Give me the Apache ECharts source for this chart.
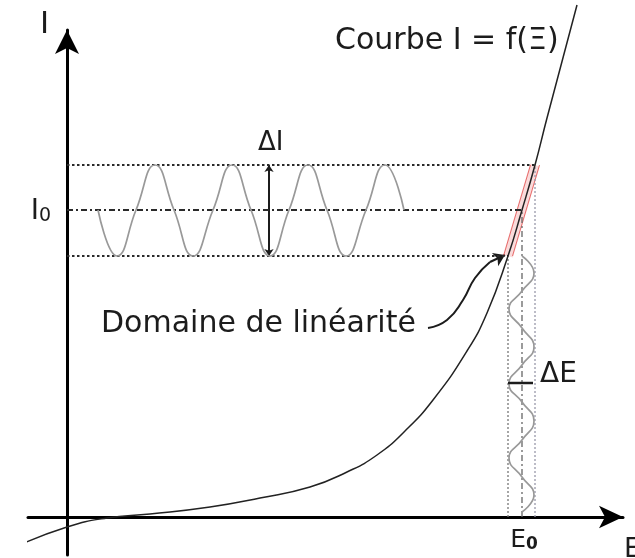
<!DOCTYPE html>
<html>
<head>
<meta charset="utf-8">
<title>Courbe I = f(E)</title>
<script src="https://cdn.jsdelivr.net/npm/echarts@6.0.0/dist/echarts.min.js"></script>
<style>
  html, body { margin: 0; padding: 0; background: #fff; }
  #chart { width: 635px; height: 558px; }
</style>
</head>
<body>
<div id="chart"></div>
<script>
  // operating point and swing (arbitrary units, origin where the axes cross)
  const E0 = 45.5
  const I0 = 30.7
  const eRange = [44.1, 46.8] // E0 -/+ dE/2
  const iRange = [26.1, 35.2] // I0 -/+ dI/2

  // characteristic I = f(E)
  const curveE = [-5.2, 0, 4.0, 8.3, 14.3, 19.3, 24.3, 28.0, 31.0, 33.8, 36.6, 40.0, 42.0, 44.1, 45.5, 46.8, 48.0, 51.0]
  const curveI = [-3.0, -1.0, -0.1, 0.3, 1.0, 1.9, 3.0, 4.5, 6.2, 8.6, 11.7, 16.6, 20.4, 26.1, 30.7, 35.2, 39.9, 51.2]

  // output signal around I0 (zero crossings and peaks)
  const outE = [3.1, 5.0, 6.9, 8.8, 10.7, 12.6, 14.6, 16.5, 18.4, 20.3, 22.2, 24.1, 26.0, 27.9, 29.9, 31.8, 33.7]
  const outI = [30.7, 26.1, 30.7, 35.2, 30.7, 26.1, 30.7, 35.2, 30.7, 26.1, 30.7, 35.2, 30.7, 26.1, 30.7, 35.2, 30.7]

  // input signal around E0, time running downwards
  const inE = [45.5, 46.7, 45.5, 44.2, 45.5, 46.7, 45.5, 44.2, 45.5, 46.7, 45.5, 44.2, 45.5, 46.7, 45.5]
  const inI = [26.1, 24.4, 22.6, 20.8, 18.9, 17.0, 15.2, 13.3, 11.5, 9.6, 7.7, 5.9, 4.0, 2.2, 0.5]

  // pointer from "Domaine de linéarité"
  const ptrE = [36.1, 38.0, 39.6, 40.8, 42.3, 43.8]
  const ptrI = [18.9, 19.7, 21.7, 23.9, 25.5, 26.2]

  const dIAt = 20.2 // E where the dI arrow stands
  const dEAt = 13.4 // I where the dE mark stands

  const ink = '#1c1c1c'
  const font = '"DejaVu Sans", sans-serif'
  const zip = (xs, ys) => xs.map((x, i) => [x, ys[i]])

  function seg(points, lineStyle, extra) {
    return Object.assign({
      type: 'line',
      data: points,
      symbol: 'none',
      silent: true,
      clip: false,
      animation: false,
      lineStyle: lineStyle
    }, extra || {})
  }

  const myChart = echarts.init(document.getElementById('chart'))

  const dotted = { color: '#2a2a2a', width: 1.8, type: [2.5, 2.5] }
  const dashDot = { color: '#2a2a2a', width: 1.8, type: [6, 3, 2, 3] }

  const option = {
    backgroundColor: '#fff',
    animation: false,
    grid: { left: 28, right: 12, top: 30, bottom: 3, outerBoundsMode: 'none', containLabel: false },
    xAxis: {
      type: 'value',
      min: -3.9,
      max: 55.6,
      splitLine: { show: false },
      axisTick: { show: false },
      axisLabel: { show: false },
      axisLine: {
        onZero: true,
        symbol: ['none', 'arrow'],
        symbolSize: [17, 24],
        lineStyle: { color: '#000', width: 3 }
      }
    },
    yAxis: {
      type: 'value',
      min: -3.8,
      max: 48.7,
      splitLine: { show: false },
      axisTick: { show: false },
      axisLabel: { show: false },
      axisLine: {
        onZero: true,
        symbol: ['none', 'arrow'],
        symbolSize: [18, 24],
        lineStyle: { color: '#000', width: 3 }
      }
    },
    series: [
      // linear domain band
      seg([[eRange[0], iRange[0]], [eRange[1], iRange[1]]], { color: 'rgba(236,110,110,0.25)', width: 10 }),
      seg([[eRange[0] - 0.45, iRange[0]], [eRange[1] - 0.45, iRange[1]]], { color: 'rgba(225,70,70,0.75)', width: 1 }),
      seg([[eRange[0] + 0.45, iRange[0]], [eRange[1] + 0.45, iRange[1]]], { color: 'rgba(225,70,70,0.75)', width: 1 }),

      // projection lines
      seg([[0, iRange[1]], [eRange[1], iRange[1]]], dotted),
      seg([[0, I0], [E0, I0]], dashDot),
      seg([[0, iRange[0]], [eRange[0], iRange[0]]], dotted),
      seg([[eRange[0], 0], [eRange[0], iRange[0]]], { color: '#777', width: 1.3, type: [2, 2] }),
      seg([[E0, 0], [E0, I0]], { color: '#666', width: 1.3, type: [6, 3, 2, 3] }),
      seg([[eRange[1], 0], [eRange[1], iRange[1]]], { color: '#99a', width: 1.3, type: [2, 2] }),

      // signals
      seg(zip(outE, outI), { color: '#999', width: 1.7 }, { smooth: 0.5 }),
      seg(zip(inE, inI), { color: '#999', width: 1.7 }, { smooth: 0.5 }),

      // characteristic
      seg(zip(curveE, curveI), { color: '#222', width: 1.5 }, { smooth: 0.5 }),

      // pointer body
      seg(zip(ptrE.slice(0, -1), ptrI.slice(0, -1)), { color: ink, width: 2 }, { smooth: 0.5 }),

      // dE mark
      seg([[eRange[0], dEAt], [eRange[1] - 0.2, dEAt]], { color: ink, width: 2.5 }),

      {
        type: 'lines',
        coordinateSystem: 'cartesian2d',
        silent: true,
        animation: false,
        lineStyle: { color: ink, width: 2, opacity: 1 },
        data: [
          {
            coords: [[dIAt, iRange[0]], [dIAt, iRange[1]]],
            symbol: ['arrow', 'arrow'],
            symbolSize: 7
          },
          {
            coords: [[ptrE[ptrE.length - 2], ptrI[ptrI.length - 2]], [ptrE[ptrE.length - 1], ptrI[ptrI.length - 1]]],
            symbol: ['none', 'arrow'],
            symbolSize: 11
          }
        ]
      }
    ]
  }

  myChart.setOption(option)

  // texts, the axis ones placed from the scales
  const origin = myChart.convertToPixel({ gridIndex: 0 }, [0, 0])
  const op = myChart.convertToPixel({ gridIndex: 0 }, [E0, I0])

  myChart.setOption({
    graphic: [
      { type: 'text', left: 335, top: 26, style: { text: 'Courbe I = f(Ξ)', font: '30px ' + font, fill: ink } },
      { type: 'text', left: 101, top: 309, style: { text: 'Domaine de linéarité', font: '30px ' + font, fill: ink } },
      { type: 'text', left: 40, top: 9, style: { text: 'I', font: '31px ' + font, fill: ink } },
      { type: 'text', left: 624, top: 536, style: { text: 'E', font: '27px ' + font, fill: ink } },
      { type: 'text', left: 258, top: 130, style: { text: 'ΔI', font: '26px ' + font, fill: ink } },
      { type: 'text', left: 540, top: 361, style: { text: 'ΔE', font: '28px ' + font, fill: ink } },
      {
        type: 'text',
        x: origin[0] - 16,
        y: op[1] + 2,
        style: {
          text: '{m|I}{s|0}',
          align: 'right',
          verticalAlign: 'middle',
          rich: {
            m: { font: '28px ' + font, fill: ink },
            s: { font: '19px ' + font, fill: ink, verticalAlign: 'bottom' }
          }
        }
      },
      {
        type: 'text',
        x: op[0] + 2,
        y: origin[1] + 11,
        style: {
          text: '{m|E}{s|0}',
          align: 'center',
          verticalAlign: 'top',
          rich: {
            m: { font: '25px ' + font, fill: ink },
            s: { font: 'bold 17px ' + font, fill: ink, verticalAlign: 'bottom' }
          }
        }
      }
    ]
  })
</script>
</body>
</html>
